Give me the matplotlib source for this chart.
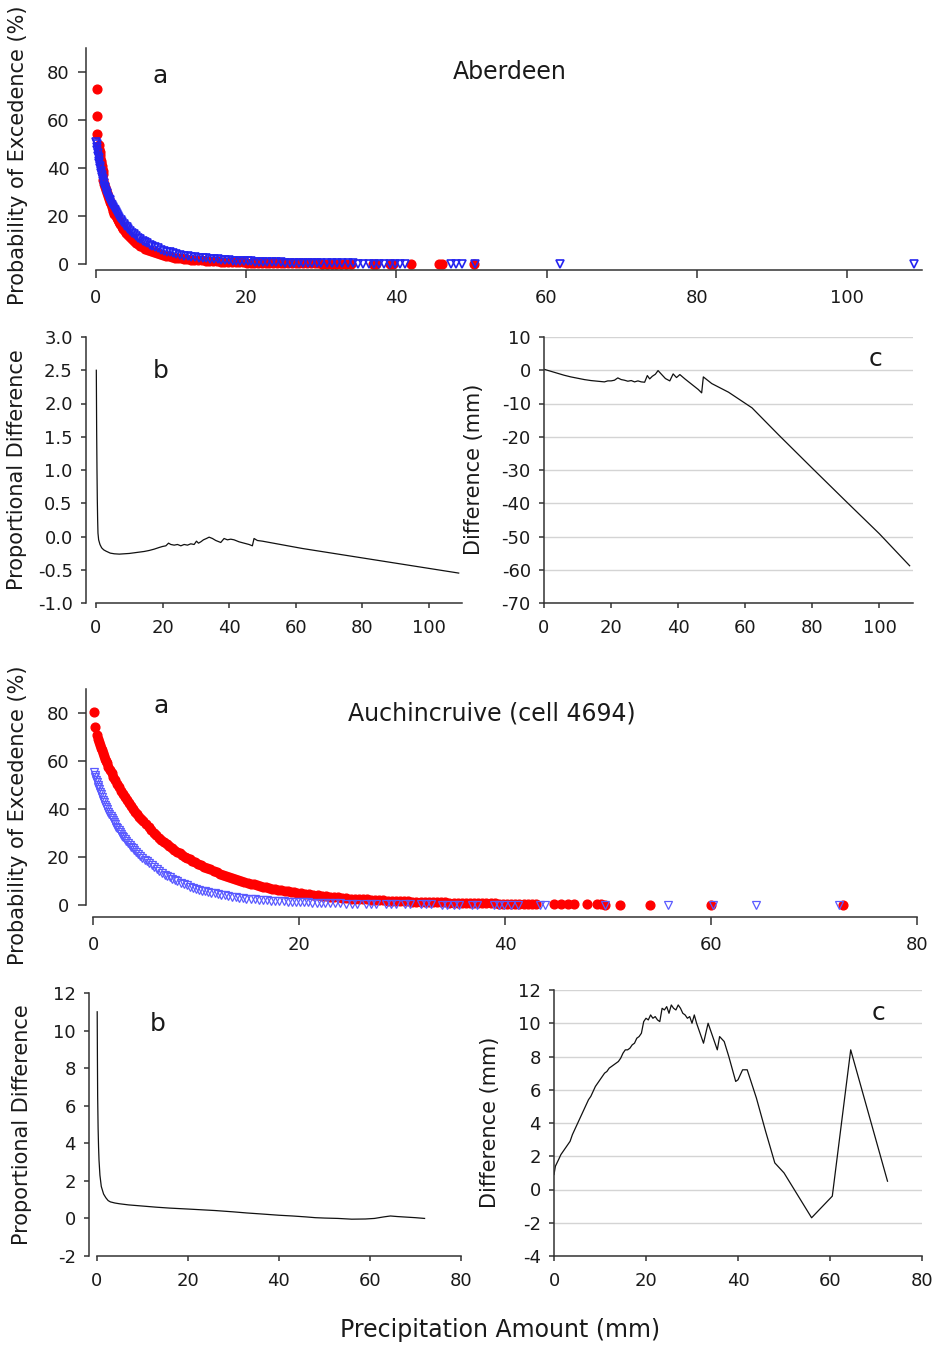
import numpy as np
import matplotlib
matplotlib.use("Agg")
import matplotlib.pyplot as plt

plt.rcParams['font.family'] = ['DejaVu Sans']
plt.rcParams['axes.unicode_minus'] = False

# --- Aberdeen: probability of exceedence (%) ---
abd_obs_x = [0.1, 0.15, 0.2, 0.35, 0.41, 0.47, 0.53, 0.59, 0.65, 0.71, 0.77, 0.83, 0.89, 0.95,
             1.0, 1.12, 1.24, 1.36, 1.48, 1.6, 1.72, 1.84, 1.96, 2.08, 2.2, 2.32, 2.46, 2.6, 2.75,
             2.9, 3.05, 3.2, 3.4, 3.6, 3.8, 4.0, 4.25, 4.5, 4.75, 5.0, 5.3, 5.6, 5.9, 6.2, 6.55, 6.9,
             7.3, 7.7, 8.1, 8.5, 8.9, 9.3, 9.7, 10.1, 10.5, 10.9, 11.3, 11.7, 12.1, 12.6, 13.1, 13.6,
             14.1, 14.6, 15.1, 15.6, 16.1, 16.6, 17.1, 17.6, 18.1, 18.6, 19.1, 19.6, 20.1, 20.6, 21.1,
             21.6, 22.1, 22.6, 23.1, 23.6, 24.1, 24.6, 25.1, 25.6, 26.1, 26.6, 27.1, 27.6, 28.1, 28.6,
             29.1, 29.6, 30.1, 30.8, 31.4, 32.0, 32.6, 33.3, 34.0, 36.9, 37.3, 39.2, 39.6, 42.0, 45.7,
             46.1, 50.4]
abd_obs_y = [73, 61.5, 54.2, 49.5, 48.1, 46.8, 45.5, 44.2, 43.0, 41.9, 40.8, 39.7, 38.6, 37.6,
             35.0, 33.5, 32.1, 30.7, 29.4, 28.2, 27.0, 25.9, 24.8, 23.8, 22.8, 21.9, 20.9, 20.0, 19.1,
             18.2, 17.4, 16.6, 15.6, 14.7, 13.8, 13.0, 12.1, 11.2, 10.4, 9.7, 8.9, 8.2, 7.6, 7.0, 6.4,
             5.9, 5.4, 4.9, 4.5, 4.1, 3.8, 3.5, 3.2, 2.95, 2.7, 2.5, 2.3, 2.15, 2.0, 1.85, 1.7, 1.58,
             1.46, 1.35, 1.25, 1.16, 1.08, 1.0, 0.93, 0.87, 0.81, 0.76, 0.71, 0.66, 0.62, 0.58, 0.54,
             0.51, 0.48, 0.45, 0.42, 0.4, 0.38, 0.36, 0.34, 0.32, 0.3, 0.28, 0.27, 0.25, 0.24, 0.23,
             0.22, 0.21, 0.2, 0.18, 0.17, 0.16, 0.15, 0.14, 0.13, 0.1, 0.09, 0.08, 0.07, 0.05, 0.04,
             0.03, 0.02]
abd_mod_x = [0.05, 0.1, 0.15, 0.2, 0.25, 0.3, 0.35, 0.4, 0.45, 0.5, 0.56, 0.62, 0.68, 0.74, 0.8, 0.87,
             0.94, 1.02, 1.1, 1.18, 1.26, 1.35, 1.44, 1.53, 1.62, 1.72, 1.82, 1.92, 2.03, 2.14, 2.25,
             2.37, 2.5, 2.65, 2.8, 2.95, 3.1, 3.3, 3.5, 3.7, 3.9, 4.1, 4.3, 4.55, 4.8, 5.05, 5.3, 5.6,
             5.9, 6.2, 6.5, 6.8, 7.15, 7.5, 7.85, 8.2, 8.6, 9.0, 9.4, 9.8, 10.2, 10.7, 11.2, 11.7, 12.2,
             12.7, 13.2, 13.7, 14.2, 14.7, 15.2, 15.7, 16.2, 16.7, 17.2, 17.7, 18.2, 18.7, 19.2, 19.7,
             20.2, 20.7, 21.2, 21.7, 22.2, 22.8, 23.4, 24.0, 24.6, 25.2, 25.8, 26.4, 27.0, 27.6, 28.2,
             28.8, 29.4, 30.0, 30.7, 31.4, 32.1, 32.8, 33.5, 34.2, 34.9, 35.6, 36.3, 37.0, 37.7, 38.4,
             39.1, 39.8, 40.5, 41.1, 47.3, 48.0, 48.8, 50.5, 61.8, 109]
abd_mod_y = [51.0, 49.8, 48.6, 47.4, 46.3, 45.2, 44.1, 43.0, 41.9, 40.8, 39.8, 38.8, 37.9, 37.0, 36.2,
             35.3, 34.5, 33.6, 32.7, 31.9, 31.1, 30.3, 29.5, 28.7, 28.0, 27.2, 26.5, 25.8, 25.1, 24.4,
             23.7, 23.0, 22.3, 21.5, 20.7, 19.9, 19.2, 18.3, 17.5, 16.7, 16.0, 15.3, 14.6, 13.8, 13.1,
             12.4, 11.7, 11.0, 10.3, 9.7, 9.1, 8.6, 8.0, 7.5, 7.0, 6.5, 6.0, 5.6, 5.2, 4.8, 4.5, 4.15,
             3.8, 3.5, 3.25, 3.0, 2.8, 2.6, 2.45, 2.3, 2.15, 2.0, 1.88, 1.76, 1.65, 1.55, 1.45, 1.36,
             1.28, 1.2, 1.13, 1.06, 1.0, 0.94, 0.88, 0.82, 0.76, 0.71, 0.66, 0.61, 0.57, 0.53, 0.49,
             0.46, 0.43, 0.4, 0.37, 0.35, 0.32, 0.3, 0.27, 0.25, 0.23, 0.21, 0.19, 0.17, 0.16, 0.15,
             0.14, 0.13, 0.12, 0.11, 0.1, 0.09, 0.07, 0.06, 0.05, 0.04, 0.02, 0.01]

# Aberdeen proportional difference and difference (mm)
abd_pd_x = [0.1, 0.2, 0.3, 0.4, 0.5, 0.6, 0.8, 1.2, 1.7, 2.3, 3, 4.3, 5.5, 7, 8.5, 10, 11.5, 13, 14.5,
            16, 17.5, 19, 20, 21, 21.8, 22.5, 23.5, 24.5, 25.5, 26.5, 27.5, 28.5, 29.5, 30.2, 30.8,
            31.5, 32.3, 33.2, 34.0, 35, 36, 37.5, 38.5, 39.5, 40.5, 41.5, 43, 44.5, 46, 47, 47.5, 48.5,
            50, 62, 109]
abd_pd_y = [2.5, 1.6, 1.0, 0.55, 0.25, 0.05, -0.05, -0.12, -0.17, -0.2, -0.22, -0.25, -0.26, -0.265,
            -0.26, -0.255, -0.245, -0.235, -0.225, -0.21, -0.19, -0.165, -0.15, -0.14, -0.1, -0.12,
            -0.13, -0.12, -0.14, -0.12, -0.13, -0.11, -0.12, -0.07, -0.1, -0.08, -0.05, -0.03, -0.01,
            -0.03, -0.06, -0.09, -0.03, -0.05, -0.04, -0.05, -0.08, -0.1, -0.12, -0.14, -0.03, -0.06,
            -0.07, -0.18, -0.55]
abd_d_x = [0, 2, 4, 6, 8, 10, 12, 14, 16, 18, 19, 20, 21, 22, 23, 24, 25, 26, 27, 28, 29, 30, 30.8,
           31.5, 32.3, 33.2, 34, 35, 36.2, 37.5, 38.5, 39.5, 40.5, 42, 44, 46, 47, 47.5, 50, 55, 62,
           70, 80, 90, 100, 109]
abd_d_y = [0.3, -0.3, -0.9, -1.5, -2.0, -2.4, -2.8, -3.1, -3.3, -3.5, -3.2, -3.2, -3.0, -2.3, -2.8,
           -3.0, -3.3, -3.1, -3.5, -3.2, -3.5, -3.6, -1.6, -2.6, -1.8, -1.2, -0.1, -1.2, -2.5, -3.2,
           -1.1, -2.2, -1.3, -2.6, -4.2, -5.8, -6.8, -2.0, -4.0, -6.6, -11.3, -19.5, -29.5, -39.4,
           -49.2, -58.8]

# --- Auchincruive (cell 4694) ---
auc_obs_x = [0.1, 0.2, 0.35, 0.45, 0.55, 0.65, 0.75, 0.85, 0.95, 1.05, 1.15, 1.25, 1.35, 1.5, 1.65,
             1.8, 1.95, 2.1, 2.3, 2.5, 2.7, 2.9, 3.1, 3.3, 3.5, 3.7, 3.9, 4.1, 4.3, 4.5, 4.7, 4.9,
             5.15, 5.4, 5.65, 5.9, 6.15, 6.4, 6.65, 6.9, 7.15, 7.4, 7.65, 7.9, 8.15, 8.4, 8.65, 8.9,
             9.15, 9.4, 9.65, 9.9, 10.2, 10.5, 10.8, 11.1, 11.4, 11.7, 12.0, 12.3, 12.6, 12.9, 13.2,
             13.5, 13.8, 14.1, 14.4, 14.7, 15.0, 15.3, 15.6, 15.9, 16.2, 16.5, 16.8, 17.1, 17.4, 17.7,
             18.0, 18.3, 18.6, 18.9, 19.2, 19.5, 19.8, 20.2, 20.6, 21.0, 21.4, 21.8, 22.2, 22.6, 23.0,
             23.4, 23.8, 24.2, 24.6, 25.0, 25.4, 25.8, 26.2, 26.6, 27.0, 27.4, 27.8, 28.2, 28.6, 29.0,
             29.4, 29.8, 30.2, 30.6, 31.0, 31.4, 31.8, 32.2, 32.6, 33.0, 33.4, 33.8, 34.2, 34.6, 35.0,
             35.4, 35.8, 36.2, 36.6, 37.0, 37.4, 37.8, 38.2, 38.6, 39.0, 39.4, 39.8, 40.2, 40.6, 41.0,
             41.4, 41.8, 42.2, 42.6, 43.0, 44.8, 45.4, 46.1, 46.7, 48.0, 48.9, 49.3, 49.7, 51.2, 54.1,
             60.0, 72.8]
auc_obs_y = [80.5, 74, 70.8, 69.3, 68.0, 66.8, 65.6, 64.5, 63.4, 62.0, 61.0, 60.0, 59.0, 57.6, 56.2,
             54.8, 53.5, 52.2, 50.6, 49.1, 47.6, 46.3, 44.9, 43.6, 42.3, 41.1, 40.0, 38.9, 37.8, 36.8,
             35.8, 34.8, 33.6, 32.5, 31.3, 30.2, 29.1, 28.1, 27.2, 26.3, 25.4, 24.6, 23.8, 23.0, 22.2,
             21.5, 20.8, 20.2, 19.6, 19.0, 18.4, 17.9, 17.2, 16.6, 16.0, 15.4, 14.8, 14.2, 13.6, 13.1,
             12.6, 12.1, 11.6, 11.2, 10.8, 10.4, 10.0, 9.6, 9.2, 8.9, 8.6, 8.3, 8.0, 7.7, 7.4, 7.1,
             6.8, 6.6, 6.4, 6.1, 5.9, 5.7, 5.5, 5.3, 5.1, 4.9, 4.6, 4.4, 4.2, 4.0, 3.8, 3.6, 3.45, 3.3,
             3.15, 3.0, 2.85, 2.7, 2.6, 2.5, 2.4, 2.3, 2.2, 2.1, 2.0, 1.9, 1.85, 1.8, 1.7, 1.65, 1.6,
             1.5, 1.45, 1.4, 1.35, 1.3, 1.25, 1.2, 1.15, 1.1, 1.05, 1.0, 0.95, 0.92, 0.88, 0.85, 0.82,
             0.78, 0.75, 0.72, 0.7, 0.67, 0.64, 0.62, 0.6, 0.57, 0.55, 0.52, 0.5, 0.48, 0.45, 0.42,
             0.4, 0.35, 0.33, 0.3, 0.28, 0.25, 0.23, 0.22, 0.2, 0.18, 0.15, 0.1, 0.05]
auc_mod_x = [0.1, 0.17, 0.24, 0.31, 0.38, 0.45, 0.52, 0.6, 0.7, 0.8, 0.9, 1.0, 1.1, 1.2, 1.3, 1.4,
             1.5, 1.6, 1.7, 1.8, 1.9, 2.0, 2.12, 2.24, 2.36, 2.48, 2.6, 2.72, 2.84, 2.96, 3.1, 3.25,
             3.4, 3.55, 3.7, 3.85, 4.0, 4.2, 4.4, 4.6, 4.8, 5.0, 5.2, 5.45, 5.7, 5.95, 6.2, 6.45, 6.7,
             6.95, 7.2, 7.45, 7.7, 7.95, 8.2, 8.5, 8.8, 9.1, 9.4, 9.7, 10.0, 10.3, 10.6, 10.9, 11.2,
             11.5, 11.8, 12.1, 12.45, 12.8, 13.15, 13.5, 13.85, 14.2, 14.55, 14.9, 15.3, 15.7, 16.1,
             16.5, 16.9, 17.3, 17.7, 18.1, 18.5, 18.9, 19.3, 19.7, 20.1, 20.5, 20.9, 21.3, 21.7, 22.1,
             22.5, 23.0, 23.5, 24.0, 24.6, 25.1, 25.6, 26.5, 27.0, 27.5, 28.4, 28.9, 29.4, 30.3, 30.8,
             31.8, 32.3, 32.8, 33.9, 34.4, 35.0, 35.5, 36.8, 37.3, 38.9, 39.4, 39.9, 40.6, 41.3, 43.4,
             43.9, 49.7, 55.8, 60.2, 64.4, 72.4]
auc_mod_y = [55.5, 54.3, 53.2, 52.1, 51.1, 50.1, 49.2, 48.3, 47.2, 46.1, 45.0, 43.9, 42.8, 41.8, 40.8,
             39.8, 38.9, 38.0, 37.1, 36.2, 35.3, 34.5, 33.6, 32.7, 31.9, 31.1, 30.3, 29.6, 28.9, 28.2,
             27.4, 26.6, 25.8, 25.0, 24.3, 23.6, 22.9, 22.0, 21.2, 20.4, 19.6, 18.9, 18.2, 17.3, 16.5,
             15.7, 14.8, 14.1, 13.4, 12.7, 12.1, 11.5, 10.9, 10.4, 9.9, 9.3, 8.7, 8.2, 7.7, 7.2, 6.8,
             6.4, 6.0, 5.7, 5.4, 5.1, 4.8, 4.5, 4.25, 4.0, 3.75, 3.5, 3.3, 3.1, 2.9, 2.7, 2.5, 2.35,
             2.2, 2.05, 1.92, 1.8, 1.7, 1.6, 1.5, 1.42, 1.34, 1.26, 1.19, 1.12, 1.05, 0.98, 0.92, 0.86,
             0.8, 0.74, 0.68, 0.63, 0.58, 0.54, 0.5, 0.45, 0.42, 0.4, 0.36, 0.34, 0.32, 0.29, 0.27,
             0.25, 0.23, 0.22, 0.2, 0.19, 0.18, 0.17, 0.16, 0.15, 0.14, 0.13, 0.12, 0.11, 0.1, 0.09,
             0.08, 0.07, 0.06, 0.05, 0.04, 0.03]

auc_pd_x = [0.1, 0.15, 0.2, 0.3, 0.4, 0.5, 0.7, 1.0, 1.5, 2, 2.5, 3, 4, 5, 7, 10, 13, 16, 20, 23, 26,
            30, 33, 36, 40, 43, 46, 48, 50, 53, 56, 59, 61, 63, 64.5, 66, 68, 70, 72]
auc_pd_y = [11.0, 8.5, 6.5, 4.8, 3.8, 3.1, 2.3, 1.7, 1.3, 1.1, 0.95, 0.88, 0.82, 0.78, 0.72, 0.66, 0.6,
            0.55, 0.5, 0.46, 0.42, 0.35, 0.29, 0.24, 0.17, 0.13, 0.08, 0.04, 0.02, 0.0, -0.04, -0.03,
            0.0, 0.08, 0.13, 0.1, 0.07, 0.04, 0.0]
auc_d_x = [0, 0.3, 1, 1.5, 2, 2.5, 3, 3.5, 4, 4.5, 5, 5.5, 6, 6.5, 7, 7.5, 8, 8.5, 9, 9.5, 10, 10.5,
           11, 11.5, 12, 12.5, 13, 13.5, 14, 14.5, 15, 15.5, 16, 16.5, 17, 17.5, 18, 18.5, 19, 19.5,
           20, 20.5, 21, 21.5, 22, 22.5, 23, 23.5, 24, 24.5, 25, 25.5, 26, 26.5, 27, 27.5, 28, 28.5,
           29, 29.5, 30, 30.5, 31, 32.5, 33.5, 35.5, 36, 37, 38, 39.5, 40, 41, 42, 44, 46, 48, 50,
           56, 60.5, 64.5, 72.5]
auc_d_y = [0.9, 1.4, 1.8, 2.1, 2.3, 2.5, 2.7, 2.9, 3.3, 3.6, 3.9, 4.2, 4.5, 4.8, 5.1, 5.4, 5.6, 5.9,
           6.2, 6.4, 6.6, 6.8, 7.0, 7.1, 7.3, 7.4, 7.5, 7.6, 7.7, 7.9, 8.2, 8.4, 8.4, 8.5, 8.7, 8.8,
           9.1, 9.2, 9.4, 10.1, 10.3, 10.2, 10.5, 10.3, 10.4, 10.2, 10.1, 10.9, 10.8, 11.0, 10.6,
           11.1, 10.9, 10.8, 11.1, 10.9, 10.6, 10.5, 10.3, 10.4, 10.0, 10.5, 10.0, 8.8, 10.0, 8.4,
           9.2, 8.9, 8.0, 6.5, 6.6, 7.2, 7.2, 5.5, 3.5, 1.6, 1.0, -1.7, -0.4, 8.4, 0.5]

W, H = 937, 1347
fig = plt.figure(figsize=(W / 100, H / 100), dpi=100)
TXT = '#1a1a1a'
SP = '#333333'


def px_axes(left, top, right, bottom):
    return fig.add_axes([left / W, 1 - bottom / H, (right - left) / W, (bottom - top) / H])


def style(ax, xmax, tlen, grid=False):
    for s in ['top', 'right']:
        ax.spines[s].set_visible(False)
    for s in ['left', 'bottom']:
        ax.spines[s].set_color(SP)
        ax.spines[s].set_linewidth(1.1)
    ax.spines['bottom'].set_bounds(0, xmax)
    ax.tick_params(direction='out', length=tlen, width=1.1, color=SP,
                   labelsize=13, labelcolor=TXT)
    ax.tick_params(axis='x', pad=8)
    ax.tick_params(axis='y', pad=6)
    if grid:
        ax.yaxis.grid(True, color='#d4d4d4', linewidth=1.0)
        ax.set_axisbelow(True)


def ftext(x, y, s, size, **kw):
    fig.text(x / W, 1 - y / H, s, fontsize=size, color=TXT, ha='center', va='center', **kw)


def exceed(ax, ox, oy, mx, my, blue, mew):
    ax.plot(ox, oy, 'o', ms=6.3, color='#ff0000', mec='#ff0000', clip_on=False)
    ax.plot(mx, my, 'v', ms=6.3, mfc='none', mec=blue, mew=mew, clip_on=False)


# Aberdeen a
ax = px_axes(86, 48, 922, 270)
exceed(ax, abd_obs_x, abd_obs_y, abd_mod_x, abd_mod_y, '#2424f0', 1.2)
ax.set_xlim(-1.33, 110)
ax.set_ylim(-2.5, 90)
ax.set_xticks(range(0, 101, 20))
ax.set_yticks(range(0, 81, 20))
style(ax, 110, 6)
ax.spines['left'].set_bounds(0, 90)

# Aberdeen b
ax = px_axes(86, 337, 462, 603)
ax.plot(abd_pd_x, abd_pd_y, color='#111111', lw=0.9)
ax.set_xlim(-3.0, 110)
ax.set_ylim(-1, 3)
ax.set_xticks(range(0, 101, 20))
ax.set_yticks(np.arange(-1.0, 3.01, 0.5))
ax.set_yticklabels(['%.1f' % v for v in np.arange(-1.0, 3.01, 0.5)])
style(ax, 110, 3.5)

# Aberdeen c
ax = px_axes(544, 337, 913, 603)
ax.plot(abd_d_x, abd_d_y, color='#111111', lw=0.9)
ax.set_xlim(0, 110)
ax.set_ylim(-70, 10)
ax.set_xticks(range(0, 101, 20))
ax.set_yticks(range(-70, 11, 10))
style(ax, 110, 3.5, grid=True)

# Auchincruive a
ax = px_axes(86, 689, 917, 917)
exceed(ax, auc_obs_x, auc_obs_y, auc_mod_x, auc_mod_y, '#5a5aff', 0.9)
ax.set_xlim(-0.68, 80)
ax.set_ylim(-5, 90)
ax.set_xticks(range(0, 81, 20))
ax.set_yticks(range(0, 81, 20))
style(ax, 80, 6)
ax.spines['left'].set_bounds(0, 90)

# Auchincruive b
ax = px_axes(89, 993, 461, 1256)
ax.plot(auc_pd_x, auc_pd_y, color='#111111', lw=0.9)
ax.set_xlim(-1.7, 80)
ax.set_ylim(-2, 12)
ax.set_xticks(range(0, 81, 20))
ax.set_yticks(range(-2, 13, 2))
style(ax, 80, 3.5)

# Auchincruive c
ax = px_axes(554, 990, 922, 1256)
ax.plot(auc_d_x, auc_d_y, color='#111111', lw=0.9)
ax.set_xlim(0, 80)
ax.set_ylim(-4, 12)
ax.set_xticks(range(0, 81, 20))
ax.set_yticks(range(-4, 13, 2))
style(ax, 80, 3.5, grid=True)

# labels
ftext(18, 155, 'Probability of Excedence (%)', 15, rotation=90)
ftext(18, 815, 'Probability of Excedence (%)', 15, rotation=90)
ftext(17, 470, 'Proportional Difference', 15, rotation=90)
ftext(22, 1125, 'Proportional Difference', 15, rotation=90)
ftext(474, 469, 'Difference (mm)', 15, rotation=90)
ftext(490, 1122, 'Difference (mm)', 15, rotation=90)

ftext(510, 72, 'Aberdeen', 17)
ftext(492, 714, 'Auchincruive (cell 4694)', 17)
ftext(160, 76, 'a', 18)
ftext(161, 706, 'a', 18)
ftext(161, 371, 'b', 18)
ftext(158, 1024, 'b', 18)
ftext(876, 359, 'c', 18)
ftext(879, 1013, 'c', 18)
ftext(500, 1330, 'Precipitation Amount (mm)', 17)

fig.savefig('out.png', dpi=100)
